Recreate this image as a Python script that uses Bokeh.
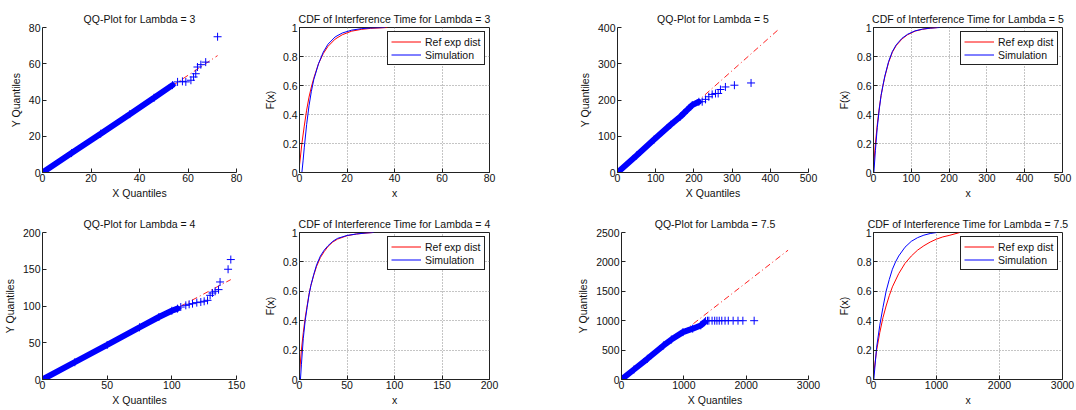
from bokeh.plotting import figure
from bokeh.layouts import column, row
from bokeh.models import FixedTicker, Range1d
from bokeh.embed import file_html
from bokeh.resources import INLINE

# ---------------- data ----------------
# QQ-Plot, Lambda = 3
qq3_band_x = [0, 12, 24, 36, 46, 53.6]
qq3_band_y = [0, 10.7, 21.4, 32.2, 41.2, 48.2]
qq3_tail_x = [55.7, 57.7, 59.1, 61.2, 62.3, 63.2, 63.9, 65.3, 67.3, 72.2]
qq3_tail_y = [50.0, 50.3, 50.0, 50.9, 52.7, 54.5, 58.2, 59.5, 60.9, 74.9]
qq3_ref_x = [0, 72.2]
qq3_ref_y = [0, 64.5]

# QQ-Plot, Lambda = 4
qq4_band_x = [0, 25, 50, 75, 90, 100, 104.4]
qq4_band_y = [0, 23.5, 47, 71, 85, 93.5, 96.4]
qq4_tail_x = [106.9, 110.8, 113.4, 116, 119.3, 122.4, 125, 127.6, 129.6, 131.4, 133.5, 136.1, 137.3, 143.5, 145.6]
qq4_tail_y = [98.6, 100.9, 102.3, 103.2, 104.6, 105.4, 106.4, 107.7, 114.5, 117.7, 120, 122.3, 132.7, 150, 163.2]
qq4_ref_x = [0, 145.6]
qq4_ref_y = [0, 135.9]

# QQ-Plot, Lambda = 5
qq5_band_x = [0, 50, 95.7, 139, 165, 182.6, 195.6, 213]
qq5_band_y = [0, 47, 90.8, 131.7, 154.5, 172.6, 186, 195]
qq5_tail_x = [221.7, 230.4, 239, 247.8, 256.5, 263.5, 269.5, 282.5, 306, 349.6]
qq5_tail_y = [195.3, 201.8, 209, 215.4, 218, 218, 229, 236, 240.8, 247]
qq5_ref_x = [0, 422]
qq5_ref_y = [0, 395]

# QQ-Plot, Lambda = 7.5
qq7_band_x = [0, 200, 415, 675, 800, 986, 1142, 1271, 1330]
qq7_band_y = [0, 170, 352, 579, 680, 806, 864, 920, 975]
qq7_tail_x = [1349, 1380, 1402, 1453, 1495, 1531, 1568, 1609, 1661, 1713, 1791, 1869, 1947, 2128]
qq7_tail_y = [994, 1000, 1000, 1000, 1000, 1000, 1000, 1000, 1000, 1000, 1000, 1000, 1000, 1000]
qq7_ref_x = [0, 2672]
qq7_ref_y = [0, 2199]

# CDF, Lambda = 3
cdf3_ref_x = [0, 1, 2, 3, 4, 5, 6, 8, 10, 12, 15, 18, 22, 26, 30, 37]
cdf3_ref_F = [0.05, 0.20, 0.32, 0.43, 0.52, 0.59, 0.65, 0.75, 0.82, 0.87, 0.92, 0.95, 0.975, 0.987, 0.994, 1.0]
cdf3_sim_x = [1, 1.5, 2, 3, 4, 5, 6, 8, 10, 12, 15, 18, 22, 26, 30, 36]
cdf3_sim_F = [0, 0.08, 0.17, 0.33, 0.46, 0.56, 0.64, 0.75, 0.83, 0.885, 0.935, 0.962, 0.982, 0.992, 0.997, 1.0]

# CDF, Lambda = 4
cdf4_ref_x = [0, 2, 4, 6, 8, 10, 12, 15, 18, 22, 26, 30, 35, 40, 50, 60, 70, 77]
cdf4_ref_F = [0.045, 0.2, 0.32, 0.42, 0.5, 0.58, 0.64, 0.71, 0.77, 0.83, 0.87, 0.905, 0.935, 0.955, 0.978, 0.99, 0.996, 1.0]
cdf4_sim_x = [1, 2, 4, 6, 8, 10, 12, 15, 18, 22, 26, 30, 35, 40, 50, 60, 70, 78]
cdf4_sim_F = [0, 0.1, 0.28, 0.4, 0.49, 0.575, 0.64, 0.715, 0.78, 0.84, 0.88, 0.91, 0.94, 0.96, 0.98, 0.99, 0.997, 1.0]

# CDF, Lambda = 5
cdf5_ref_x = [0, 5, 10, 15, 20, 25, 30, 40, 50, 60, 75, 90, 110, 130, 150, 170]
cdf5_ref_F = [0.03, 0.2, 0.33, 0.44, 0.53, 0.6, 0.66, 0.76, 0.83, 0.875, 0.92, 0.95, 0.975, 0.988, 0.995, 1.0]
cdf5_sim_x = [1, 5, 10, 15, 20, 25, 30, 40, 50, 60, 75, 90, 110, 130, 150, 175]
cdf5_sim_F = [0, 0.15, 0.31, 0.43, 0.53, 0.6, 0.665, 0.765, 0.835, 0.88, 0.925, 0.953, 0.977, 0.989, 0.996, 1.0]

# CDF, Lambda = 7.5
cdf7_ref_x = [0, 50, 100, 150, 200, 250, 300, 400, 500, 600, 700, 800, 900, 1000, 1100, 1200, 1370]
cdf7_ref_F = [0.03, 0.2, 0.32, 0.42, 0.5, 0.57, 0.63, 0.72, 0.79, 0.84, 0.88, 0.91, 0.935, 0.955, 0.97, 0.98, 1.0]
cdf7_sim_x = [5, 50, 100, 150, 200, 250, 300, 350, 400, 500, 600, 700, 800, 900, 1000]
cdf7_sim_F = [0, 0.22, 0.37, 0.49, 0.6, 0.68, 0.75, 0.8, 0.84, 0.9, 0.94, 0.965, 0.982, 0.993, 1.0]

# ticks
ticks_80 = [0, 20, 40, 60, 80]
ticks_150 = [0, 50, 100, 150]
ticks_200 = [0, 50, 100, 150, 200]
ticks_400 = [0, 100, 200, 300, 400]
ticks_500 = [0, 100, 200, 300, 400, 500]
ticks_2500 = [0, 500, 1000, 1500, 2000, 2500]
ticks_3000 = [0, 1000, 2000, 3000]
cdf_y_ticks = [0, 0.2, 0.4, 0.6, 0.8, 1]
cdf_y_labels = ["0", "0.2", "0.4", "0.6", "0.8", "1"]

legend_labels = ["Ref exp dist", "Simulation"]

# ---------------- styling ----------------
FONT = "Liberation Sans"
FS = "10.5px"
AX = "#222222"
TXT = "#111111"


def base_fig(title, xr, yr, xt, yt, w, h, lb, rb, tb, bb, xlabel, ylabel):
    p = figure(width=w, height=h, x_range=Range1d(*xr), y_range=Range1d(*yr),
               output_backend="svg", toolbar_location=None, title=title,
               min_border_left=lb, min_border_right=rb,
               min_border_top=tb, min_border_bottom=bb)
    p.background_fill_color = "white"
    p.border_fill_color = "white"
    p.title.text_font = FONT
    p.title.text_font_size = FS
    p.title.text_font_style = "normal"
    p.title.text_color = TXT
    p.title.align = "center"
    p.title.standoff = 5
    xtk = FixedTicker(ticks=xt)
    ytk = FixedTicker(ticks=yt)
    p.xaxis.ticker = xtk
    p.yaxis.ticker = ytk
    p.xgrid.ticker = xtk
    p.ygrid.ticker = ytk
    p.xaxis.axis_label = xlabel
    p.yaxis.axis_label = ylabel
    for ax in (p.xaxis[0], p.yaxis[0]):
        ax.axis_line_color = AX
        ax.major_tick_line_color = AX
        ax.major_tick_in = 4
        ax.major_tick_out = 0
        ax.minor_tick_line_color = None
        ax.major_label_text_font = FONT
        ax.major_label_text_font_size = FS
        ax.major_label_text_color = TXT
        ax.axis_label_text_font = FONT
        ax.axis_label_text_font_size = FS
        ax.axis_label_text_font_style = "normal"
        ax.axis_label_text_color = TXT
    p.xaxis.major_label_standoff = 1
    p.xaxis.axis_label_standoff = 2
    p.yaxis.major_label_standoff = 2
    p.yaxis.axis_label_standoff = 4
    return p


def qq_fig(title, xr, yr, xt, yt, bx, by, tx, ty, rx, ry, w, h, lb, rb, tb, bb):
    p = base_fig(title, xr, yr, xt, yt, w, h, lb, rb, tb, bb, "X Quantiles", "Y Quantiles")
    p.grid.visible = False
    p.outline_line_color = None
    p.line(rx, ry, color="#ff2020", line_dash="6 3 1 3", line_width=1)
    p.line(bx, by, color="#0000ff", line_width=6, line_cap="round")
    p.scatter(bx, by, marker="cross", size=8, line_color="#0000ff", line_width=1)
    p.scatter(tx, ty, marker="cross", size=8, line_color="#0000ff", line_width=1)
    return p


def cdf_fig(title, xr, xt, rx, rF, sx, sF, w, h, lb, rb, tb, bb):
    p = base_fig(title, xr, (0, 1), xt, cdf_y_ticks, w, h, lb, rb, tb, bb, "x", "F(x)")
    p.yaxis.major_label_overrides = dict(zip(cdf_y_ticks, cdf_y_labels))
    p.grid.grid_line_color = "#8a8a8a"
    p.grid.grid_line_dash = "1 2"
    p.grid.grid_line_width = 1
    p.outline_line_color = AX
    p.outline_line_alpha = 1
    p.line(rx, rF, color="#ff0000", line_width=1, legend_label=legend_labels[0])
    p.line(sx, sF, color="#0000ff", line_width=1, legend_label=legend_labels[1])
    lg = p.legend[0]
    lg.location = "top_right"
    lg.margin = 4
    lg.padding = 3
    lg.spacing = 0
    lg.glyph_width = 30
    lg.glyph_height = 13
    lg.label_height = 13
    lg.label_width = 56
    lg.label_standoff = 4
    lg.label_text_font = FONT
    lg.label_text_font_size = FS
    lg.label_text_color = TXT
    lg.border_line_color = AX
    lg.border_line_width = 1
    lg.border_line_alpha = 1
    lg.background_fill_color = "white"
    lg.background_fill_alpha = 1
    return p


H1, TB1, BB1 = 201, 27, 28
H2, TB2, BB2 = 209, 31, 31
# column geometry: (width, left border, right border)
C1 = (260, 42, 24)
C2 = (314, 36, 85)
C3 = (260, 43, 26)
C4 = (242, 37, 14)

p1 = qq_fig("QQ-Plot for Lambda = 3", (0, 80), (0, 80), ticks_80, ticks_80,
            qq3_band_x, qq3_band_y, qq3_tail_x, qq3_tail_y, qq3_ref_x, qq3_ref_y,
            C1[0], H1, C1[1], C1[2], TB1, BB1)
p2 = cdf_fig("CDF of Interference Time for Lambda = 3", (0, 80), ticks_80,
             cdf3_ref_x, cdf3_ref_F, cdf3_sim_x, cdf3_sim_F,
             C2[0], H1, C2[1], C2[2], TB1, BB1)
p3 = qq_fig("QQ-Plot for Lambda = 5", (0, 500), (0, 400), ticks_500, ticks_400,
            qq5_band_x, qq5_band_y, qq5_tail_x, qq5_tail_y, qq5_ref_x, qq5_ref_y,
            C3[0], H1, C3[1], C3[2], TB1, BB1)
p4 = cdf_fig("CDF of Interference Time for Lambda = 5", (0, 500), ticks_500,
             cdf5_ref_x, cdf5_ref_F, cdf5_sim_x, cdf5_sim_F,
             C4[0], H1, C4[1], C4[2], TB1, BB1)

p5 = qq_fig("QQ-Plot for Lambda = 4", (0, 150), (0, 200), ticks_150, ticks_200,
            qq4_band_x, qq4_band_y, qq4_tail_x, qq4_tail_y, qq4_ref_x, qq4_ref_y,
            C1[0], H2, C1[1], C1[2], TB2, BB2)
p6 = cdf_fig("CDF of Interference Time for Lambda = 4", (0, 200), ticks_200,
             cdf4_ref_x, cdf4_ref_F, cdf4_sim_x, cdf4_sim_F,
             C2[0], H2, C2[1], C2[2], TB2, BB2)
p7 = qq_fig("QQ-Plot for Lambda = 7.5", (0, 3000), (0, 2500), ticks_3000, ticks_2500,
            qq7_band_x, qq7_band_y, qq7_tail_x, qq7_tail_y, qq7_ref_x, qq7_ref_y,
            C3[0], H2, C3[1], C3[2], TB2, BB2)
p8 = cdf_fig("CDF of Interference Time for Lambda = 7.5", (0, 3000), ticks_3000,
             cdf7_ref_x, cdf7_ref_F, cdf7_sim_x, cdf7_sim_F,
             C4[0], H2, C4[1], C4[2], TB2, BB2)

layout = column(row(p1, p2, p3, p4), row(p5, p6, p7, p8))

open("out.html", "w").write(file_html(layout, INLINE))
